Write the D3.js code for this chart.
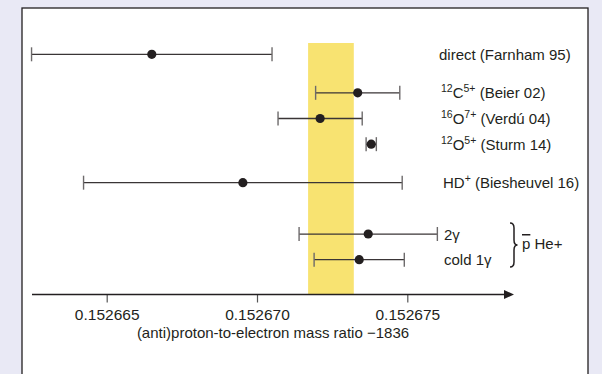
<!DOCTYPE html>
<html><head><meta charset="utf-8">
<script src="https://cdn.jsdelivr.net/npm/d3@7"></script>
<style>
html,body{margin:0;padding:0;background:#e9e9f5;}
svg{display:block;}
text{font-family:"Liberation Sans",Arial,sans-serif;fill:#231f20;}
</style></head>
<body>
<svg id="chart" width="602" height="374"></svg>
<script>
// ---- data ----
const labels = ["direct (Farnham 95)", "{12}C{5+} (Beier 02)", "{16}O{7+} (Verdú 04)", "{12}O{5+} (Sturm 14)", "HD{+} (Biesheuvel 16)", "2γ", "cold 1γ"];
const values = [0.1526665, 0.15267335, 0.1526721, 0.1526738, 0.15266953, 0.1526737, 0.1526734];
const errors = [0.0000040, 0.0000014, 0.0000014, 0.00000017, 0.0000053, 0.0000023, 0.0000015];
const rowSlot = [0, 1.5, 2.5, 3.5, 5, 7, 8];
const bandRange = [0.1526717, 0.15267322];
const tickValues = [0.152665, 0.152670, 0.152675];
const axisTitle = "(anti)proton-to-electron mass ratio \u22121836";
const groupLabel = "He+";

const svg = d3.select("#chart");
// frame
svg.append("rect").attr("x",22).attr("y",8).attr("width",566).attr("height",380)
  .attr("fill","#fff").attr("stroke","#231f20").attr("stroke-width",1.3);

const x = d3.scaleLinear().domain([0.152665, 0.152675]).range([106.7, 407.3]);
const y = d3.scaleLinear().domain([0, 8]).range([54.3, 259.7]);
const axisY = 294.5;

// band
svg.append("rect").attr("x", x(bandRange[0])).attr("y", 43)
  .attr("width", x(bandRange[1]) - x(bandRange[0])).attr("height", axisY - 43)
  .attr("fill", "#f8e371");

// axis
const ax = svg.append("g").attr("transform", `translate(0,${axisY})`)
  .call(d3.axisBottom(x).tickValues(tickValues).tickSize(8).tickPadding(6).tickFormat(d3.format(".6f")));
ax.select(".domain").remove();
ax.selectAll(".tick line").attr("stroke","#555").attr("stroke-width",1.2);
ax.selectAll(".tick text").attr("font-size","15.5px").attr("font-family","Liberation Sans, Arial, sans-serif").attr("fill","#231f20").attr("dy","0.72em");
svg.append("line").attr("x1",32).attr("x2",506).attr("y1",axisY).attr("y2",axisY)
  .attr("stroke","#231f20").attr("stroke-width",1.3);
svg.append("path").attr("d",`M504,${axisY-4.5} L514,${axisY} L504,${axisY+4.5} Z`).attr("fill","#231f20");
svg.append("text").attr("x",273).attr("y",338).attr("text-anchor","middle")
  .attr("font-size","15px").text(axisTitle);

// error bars
const rows = svg.append("g").selectAll("g").data(values.map((v,i)=>({v,e:errors[i],s:rowSlot[i],l:labels[i]})))
  .join("g");
rows.append("line").attr("x1",d=>x(d.v-d.e)).attr("x2",d=>x(d.v+d.e))
  .attr("y1",d=>y(d.s)).attr("y2",d=>y(d.s)).attr("stroke","#3a3536").attr("stroke-width",1.3);
rows.selectAll(".cap").data(d=>[[d.v-d.e,d.s],[d.v+d.e,d.s]]).join("line")
  .attr("x1",d=>x(d[0])).attr("x2",d=>x(d[0]))
  .attr("y1",d=>y(d[1])-7).attr("y2",d=>y(d[1])+7)
  .attr("stroke","#6d6a6b").attr("stroke-width",1.4);
rows.append("circle").attr("cx",d=>x(d.v)).attr("cy",d=>y(d.s)).attr("r",4.6).attr("fill","#231f20");

// labels
const labelX = [439, 441, 441, 441, 443, 444, 444];
rows.each(function(d,i){
  const t = d3.select(this).append("text").attr("x",labelX[i]).attr("y",y(d.s)+5.5).attr("font-size","15px");
  const parts = d.l.split(/(\{[^}]*\})/).filter(p=>p.length);
  let sup=false;
  parts.forEach(p=>{
    if(p.startsWith("{")){
      t.append("tspan").attr("font-size","10.5px").attr("dy", sup? 0 : -6).text(p.slice(1,-1));
      sup=true;
    } else {
      t.append("tspan").attr("dy", sup? 6 : 0).text(p);
      sup=false;
    }
  });
});

// brace + group label
svg.append("path").attr("d","M510,223 Q514,223 514,228 L514,240 Q514,245 517.5,245 Q514,245 514,250 L514,262 Q514,267 510,267")
  .attr("fill","none").attr("stroke","#231f20").attr("stroke-width",1.5);
const g = svg.append("text").attr("x",522).attr("y",249).attr("font-size","15px");
g.append("tspan").text("p").style("text-decoration","overline");
g.append("tspan").text(" " + groupLabel);
</script>
</body></html>
